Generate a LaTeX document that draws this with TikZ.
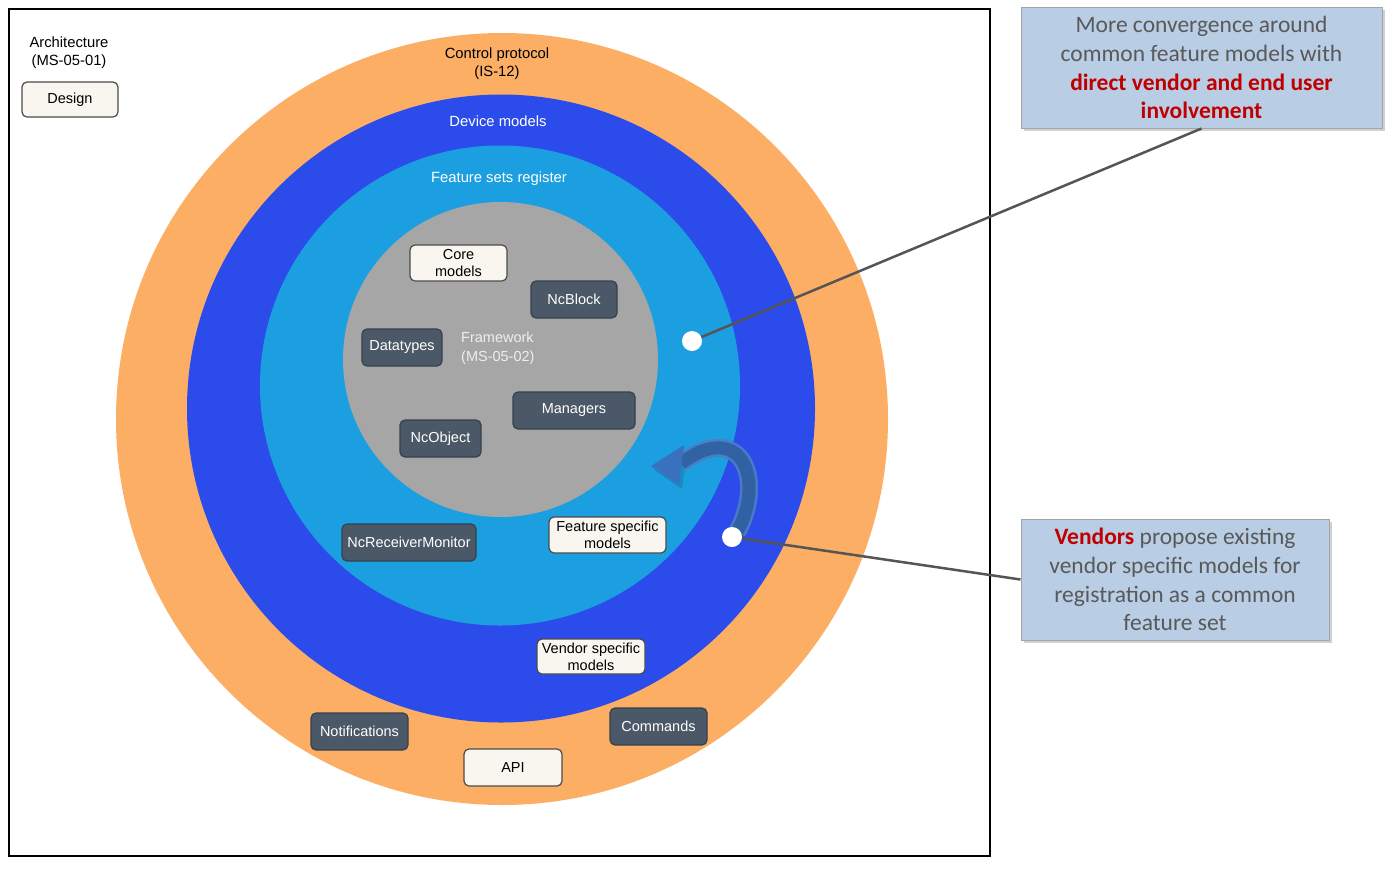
\documentclass[tikz,border=0pt]{standalone}
\usepackage{fontspec}
\setmainfont{Liberation Sans}
\newfontfamily\calfont{Carlito}
\usetikzlibrary{arrows.meta,shadows}
\definecolor{orangering}{HTML}{FCAE64}
\definecolor{bluering}{HTML}{2B4CEA}
\definecolor{lightring}{HTML}{1B9FE0}
\definecolor{grayring}{HTML}{A6A6A6}
\definecolor{darkbox}{HTML}{4A5867}
\definecolor{darkedge}{HTML}{36414C}
\definecolor{creambox}{HTML}{F8F6EF}
\definecolor{creamedge}{HTML}{4A4A4A}
\definecolor{callfill}{HTML}{B9CDE5}
\definecolor{calledge}{HTML}{A5A5A5}
\definecolor{calltext}{HTML}{595959}
\definecolor{callred}{HTML}{C00000}
\definecolor{leader}{HTML}{555555}
\definecolor{arrowedge}{HTML}{4C7EC6}
\definecolor{arrowcore}{HTML}{2F5F9F}
\definecolor{arrowhead}{HTML}{3A70BE}
\definecolor{fwtext}{HTML}{EEEEEE}
\begin{document}
\begin{tikzpicture}[x=1pt,y=-1pt,
 darknode/.style={draw=darkedge, line width=1.2pt, fill=darkbox, rounded corners=5pt, text=white, font=\fontsize{14.5}{17}\selectfont, inner sep=0pt, align=center},
 creamnode/.style={draw=creamedge, line width=1.2pt, fill=creambox, rounded corners=5pt, text=black, font=\fontsize{14.5}{17}\selectfont, inner sep=0pt, align=center},
 ringlabel/.style={font=\fontsize{14.8}{18}\selectfont, align=center},
 callout/.style={draw=calledge, line width=1pt, fill=callfill, text=calltext, align=center, font=\calfont\fontsize{23.5}{28.8}\selectfont, inner sep=0pt, drop shadow={shadow xshift=2.5pt, shadow yshift=-3pt, opacity=0.3, fill=black!60}},
 whitedot/.style={circle, fill=white, minimum size=20pt, inner sep=0pt},
 leaderline/.style={draw=leader, line width=2.5pt}
]
\useasboundingbox (0,0) rectangle (1391,876);
\fill[white] (0,0) rectangle (1391,876);
\draw[line width=1.2pt] (9,9) rectangle (990,856);

% rings
\fill[orangering] (502,419) circle[radius=386pt];
\fill[bluering] (501,408.5) circle[radius=314pt];
\fill[lightring] (500,385.5) circle[radius=240pt];
\fill[grayring] (500.5,359.5) circle[radius=157.5pt];

% ring labels
\node[ringlabel] (arch) at (69,52.5) {Architecture\\(MS-05-01)};
\node[ringlabel] (ctrl) at (497,64) {Control protocol\\(IS-12)};
\node[ringlabel, text=white] (devmod) at (498,121) {Device models};
\node[ringlabel, text=white] (featreg) at (499,179) {Feature sets register};
\node[anchor=west, align=left, text=fwtext, font=\fontsize{14.5}{19}\selectfont, inner sep=0pt] (fw) at (461,348) {Framework\\(MS-05-02)};

% boxes
\node[creamnode, minimum width=96pt, minimum height=35pt] (design) at (70,99.5) {Design};
\node[creamnode, minimum width=97pt, minimum height=36pt] (core) at (458.5,263) {Core\\models};
\node[darknode, minimum width=86pt, minimum height=37pt] (ncblock) at (574,299.5) {NcBlock};
\node[darknode, minimum width=80pt, minimum height=37pt] (datatypes) at (402,347.5) {Datatypes};
\node[darknode, minimum width=122pt, minimum height=37pt] (managers) at (574,410.5) {Managers};
\node[darknode, minimum width=81pt, minimum height=37pt] (ncobject) at (440.5,438.5) {NcObject};
\node[darknode, minimum width=134pt, minimum height=37pt] (ncrm) at (409,542.5) {NcReceiverMonitor};
\node[creamnode, minimum width=117pt, minimum height=36pt] (featspec) at (607.5,535) {Feature specific\\models};
\node[creamnode, minimum width=108pt, minimum height=35pt] (vendspec) at (591,656.5) {Vendor specific\\models};
\node[darknode, minimum width=97pt, minimum height=37pt] (notif) at (359.5,731.5) {Notifications};
\node[darknode, minimum width=97pt, minimum height=37pt] (commands) at (658.5,726.5) {Commands};
\node[creamnode, minimum width=98pt, minimum height=37pt] (api) at (513,767.5) {API};

% callouts
\node[callout, minimum width=361pt, minimum height=121pt, text depth=-2pt] (topcall) at (1201.5,67.5) {More convergence around\\common feature models with\\\textcolor{callred}{\bfseries direct vendor and end user}\\\textcolor{callred}{\bfseries involvement}};
\node[callout, minimum width=308pt, minimum height=121pt] (botcall) at (1175,579.5) {\textcolor{callred}{\bfseries Vendors} propose existing\\vendor specific models for\\registration as a common\\feature set};

% curved arrow (ribbon and head)
\coordinate (arrowstart) at (737,532);
\coordinate (arrowbase) at (681,463);
\coordinate (arrowtip) at (651,466);
\coordinate (headtop) at (684,445);
\coordinate (headbot) at (679,485);
\fill[black, opacity=0.12] ([shift={(3,4)}]arrowtip) -- ([shift={(3,4)}]headtop) -- ([shift={(3,4)}]headbot) -- cycle;
\draw[arrowedge, opacity=0.92, line width=18pt] (arrowstart) .. controls (758,495) and (752,445) .. (715,448) .. controls (702,449) and (692,456) .. (arrowbase);
\draw[arrowcore, opacity=0.9, line width=13pt] (arrowstart) .. controls (758,495) and (752,445) .. (715,448) .. controls (702,449) and (692,456) .. (arrowbase);
\fill[arrowhead, opacity=0.95] (arrowtip) -- (headtop) -- (headbot) -- cycle;

% dots and leaders
\node[whitedot] (dotA) at (692,341) {};
\node[whitedot] (dotB) at (732,537) {};
\draw[leaderline] (dotA) -- (topcall.south);
\draw[leaderline] (dotB) -- (botcall.west);
\end{tikzpicture}
\end{document}
